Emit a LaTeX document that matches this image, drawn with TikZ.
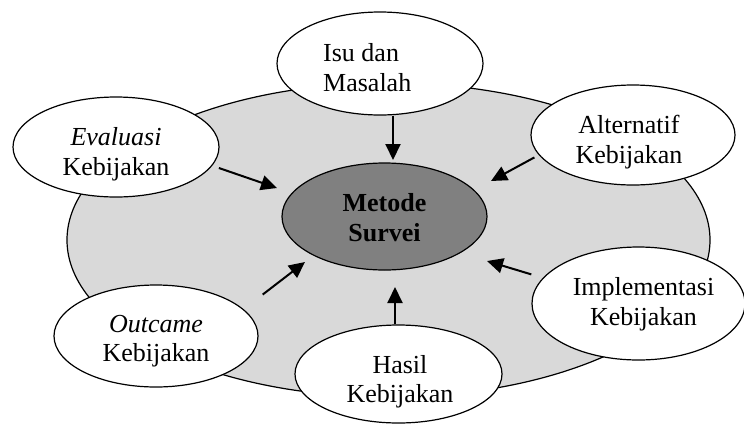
\documentclass[tikz,border=0pt]{standalone}
\usepackage{fontspec}
\setmainfont{Liberation Serif}
\usetikzlibrary{arrows.meta, shapes.geometric}

\definecolor{ringfill}{HTML}{D9D9D9}
\definecolor{corefill}{HTML}{808080}

\tikzset{
  stage/.style={ellipse, draw=black, line width=1.2pt, fill=white, inner sep=0pt},
  core/.style={ellipse, draw=black, line width=1.2pt, fill=corefill, inner sep=0pt},
  ring/.style={ellipse, draw=black, line width=1.2pt, fill=ringfill, inner sep=0pt},
  caption/.style={inner sep=0pt, align=center, font=\fontsize{26}{29.5}\selectfont},
  flow/.style={line width=2pt, -{Triangle[length=16pt,width=15pt]}},
}

\begin{document}
\begin{tikzpicture}[x=1pt, y=-1pt]
  \useasboundingbox (0,0) rectangle (744,424);

  % background ring and the central method
  \node[ring, minimum width=643pt, minimum height=314pt] (ring) at (388.5,240) {};
  \node[core, minimum width=205pt, minimum height=107pt] (core) at (384.5,216.5) {};
  \node[caption, font=\fontsize{26}{29.5}\selectfont\bfseries] (coreT) at (384.5,217.7) {Metode\\Survei};

  % the six policy stages around it
  \node[stage, minimum width=206pt, minimum height=103pt] (isu) at (380,63.5) {};
  \node[stage, minimum width=206pt, minimum height=100pt] (eva) at (116,147) {};
  \node[stage, minimum width=204pt, minimum height=100pt] (alt) at (633,135) {};
  \node[stage, minimum width=204pt, minimum height=102pt] (out) at (156,336) {};
  \node[stage, minimum width=213pt, minimum height=113pt] (imp) at (638.5,303.5) {};
  \node[stage, minimum width=207pt, minimum height=98pt] (has) at (398.5,374) {};

  \node[caption, align=left, anchor=west] (isuT) at (323,67.6) {Isu dan\\Masalah};
  \node[caption] (evaT) at (116,154) {\textit{Evaluasi}\\Kebijakan};
  \node[caption] (altT) at (629,142) {Alternatif\\Kebijakan};
  \node[caption] (outT) at (156,341) {\textit{Outcame}\\Kebijakan};
  \node[caption] (impT) at (643.5,304) {Implementasi\\Kebijakan};
  \node[caption] (hasT) at (400,381.5) {Hasil\\Kebijakan};

  % arrow tips, stopping short of the central ellipse
  \coordinate (isuTip) at (393,160);
  \coordinate (evaTip) at (277,188);
  \coordinate (altTip) at (491,181);
  \coordinate (outTip) at (305,262);
  \coordinate (impTip) at (487,261);
  \coordinate (hasTip) at (395,287);

  % arrows; the slanted ones start a little way off their ellipse
  \draw[flow] (isu.south -| isuTip) -- (isuTip);
  \draw[flow, shorten <=7pt] (eva.-11) -- (evaTip);
  \draw[flow, shorten <=5pt] (alt.192) -- (altTip);
  \draw[flow, shorten <=24pt] (out.17) -- (outTip);
  \draw[flow, shorten <=12pt] (imp.165) -- (impTip);
  \draw[flow] (has.north -| hasTip) -- (hasTip);
\end{tikzpicture}
\end{document}
